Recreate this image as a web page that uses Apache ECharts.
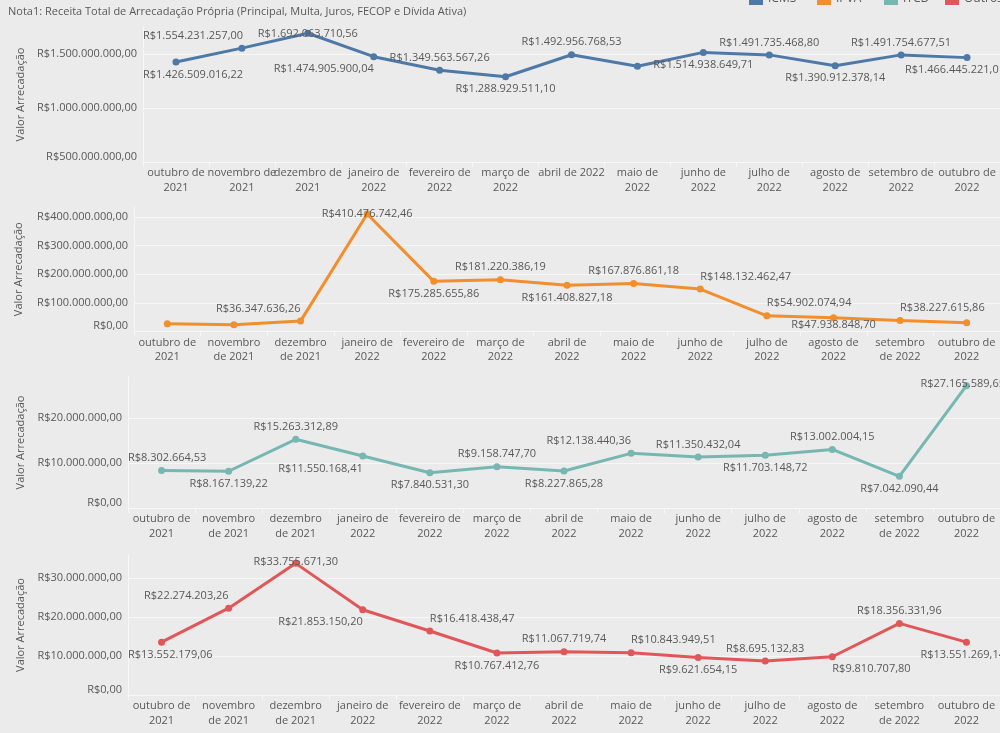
<!DOCTYPE html>
<html>
<head>
<meta charset="utf-8">
<script src="https://cdn.jsdelivr.net/npm/echarts@6/dist/echarts.min.js"></script>
<style>
html,body{margin:0;padding:0;background:#ebebeb;}
#chart{width:1000px;height:733px;}
</style>
</head>
<body>
<div id="chart"></div>
<script>
// ---- data ----
const months = ['outubro de 2021','novembro de 2021','dezembro de 2021','janeiro de 2022','fevereiro de 2022','março de 2022','abril de 2022','maio de 2022','junho de 2022','julho de 2022','agosto de 2022','setembro de 2022','outubro de 2022'];
const seriesNames = ['ICMS','IPVA','ITCD','Outros'];
const icms = [1426509016.22, 1554231257.00, 1692063710.56, 1474905900.04, 1349563567.26, 1288929511.10, 1492956768.53, 1386000000.00, 1514938649.71, 1491735468.80, 1390912378.14, 1491754677.51, 1466445221.01];
const ipva = [27000000.00, 23500000.00, 36347636.26, 410476742.46, 175285655.86, 181220386.19, 161408827.18, 167876861.18, 148132462.47, 54902074.94, 47938848.70, 38227615.86, 31000000.00];
const itcd = [8302664.53, 8167139.22, 15263312.89, 11550168.41, 7840531.30, 9158747.70, 8227865.28, 12138440.36, 11350432.04, 11703148.72, 13002004.15, 7042090.44, 27165589.65];
const outros = [13552179.06, 22274203.26, 33755671.30, 21853150.20, 16418438.47, 10767412.76, 11067719.74, 10843949.51, 9621654.15, 8695132.83, 9810707.80, 18356331.96, 13551269.14];
const titleText = 'Nota1: Receita Total de Arrecadação Própria (Principal, Multa, Juros, FECOP e Dívida Ativa)';
const axisTitle = 'Valor Arrecadação';

// ---- styling / layout ----
const colors = ['#4e79a7','#f28e2b','#76b7b2','#e15759'];
const textColor = '#595959';
const font = "'Open Sans', sans-serif";
const panels = [
  {data: icms,   left: 143, top: 27,  bottom: 162,   min: 500000000, max: 1750000000, interval: 500000000, nameGap: 117, wide: true,
   labels: ['B','TL','T','BL','T','B','T','','B','T','B','T','B']},
  {data: ipva,   left: 134, top: 207, bottom: 331.5, min: 0, max: 435000000, interval: 100000000, nameGap: 110, wide: false,
   labels: ['','','TL','T','B','T','B','T','TR','TR','B','TR','']},
  {data: itcd,   left: 128, top: 377, bottom: 508,   min: 0, max: 29100000, interval: 10000000, nameGap: 102, wide: false,
   labels: ['T','B','T','BL','B','T','B','TL','T','B','T','B','T']},
  {data: outros, left: 128, top: 555, bottom: 695,   min: 0, max: 35900000, interval: 10000000, nameGap: 102, wide: false,
   labels: ['B','TL','T','BL','TR','B','T','TR','B','T','BR','T','B']}
];
const gridRight = 1005;

function brl(v){
  const fixed = Math.abs(v).toFixed(2);
  let parts = fixed.split('.');
  let ip = parts[0].replace(/\B(?=(\d{3})+(?!\d))/g, '.');
  return (v < 0 ? '-' : '') + 'R$' + ip + ',' + parts[1];
}
function wrapMonth(s, wide){
  const w = s.split(' ');
  if (wide) {
    if (s === 'abril de 2022') return s;
    return w[0] + ' de\n' + w[2];
  }
  if (/^(novembro|dezembro|setembro)$/.test(w[0])) return w[0] + '\nde ' + w[2];
  return w[0] + ' de\n' + w[2];
}
function labelFor(code){
  if (!code) return {show: false};
  const pos = code[0] === 'T' ? 'top' : 'bottom';
  let align = 'center';
  if (code[1] === 'L') align = 'right';
  if (code[1] === 'R') align = 'left';
  return {show: true, position: pos, align: align};
}

const grids = [], xAxes = [], yAxes = [], series = [];
panels.forEach((p, i) => {
  grids.push({left: p.left, top: p.top, height: p.bottom - p.top, right: 1000 - gridRight, containLabel: false});
  xAxes.push({
    type: 'category', gridIndex: i, data: months, boundaryGap: true,
    axisLine: {show: true, lineStyle: {color: '#f7f7f7', width: 1}},
    axisTick: {show: true, length: 5, lineStyle: {color: '#f7f7f7'}},
    axisLabel: {interval: 0, margin: 4, color: textColor, fontFamily: font, fontSize: 11, lineHeight: 14.5,
      formatter: (v) => wrapMonth(v, p.wide)},
    splitLine: {show: false}
  });
  yAxes.push({
    type: 'value', gridIndex: i, min: p.min, max: p.max, interval: p.interval,
    name: axisTitle, nameLocation: 'middle', nameGap: p.nameGap, nameRotate: 90,
    nameTextStyle: {color: textColor, fontFamily: font, fontSize: 11},
    axisLine: {show: true, lineStyle: {color: '#f7f7f7', width: 1}},
    axisTick: {show: false},
    axisLabel: {color: textColor, fontFamily: font, fontSize: 11, margin: 6, showMaxLabel: false,
      verticalAlignMinLabel: 'bottom', formatter: (v) => brl(v)},
    splitLine: {show: true, showMaxLine: false, showMinLine: false, lineStyle: {color: '#f7f7f7', width: 1}}
  });
  series.push({
    name: seriesNames[i], type: 'line', xAxisIndex: i, yAxisIndex: i,
    data: p.data.map((v, k) => ({value: v, label: labelFor(p.labels[k])})),
    color: colors[i],
    lineStyle: {width: 3, color: colors[i]},
    itemStyle: {color: colors[i]},
    symbol: 'circle', symbolSize: 7, showAllSymbol: true,
    label: {distance: 2, color: textColor, fontFamily: font, fontSize: 11, lineHeight: 14,
      formatter: (pr) => brl(pr.value)},
    labelLayout: function(pr){
      const g = panels[pr.seriesIndex];
      const r = pr.labelRect;
      let dx = 0, dy = 0;
      if (r.x < g.left) dx = g.left - r.x;
      else if (r.x + r.width > gridRight) dx = gridRight - (r.x + r.width);
      if (r.y < g.top) dy = g.top - r.y;
      else if (r.y + r.height > g.bottom) dy = g.bottom - (r.y + r.height);
      return {dx: dx, dy: dy};
    },
    emphasis: {disabled: true},
    animation: false
  });
});

const legendX = [744, 812, 879, 940];
const legends = seriesNames.map((n, i) => ({
  data: [n], left: legendX[i], top: -13, itemWidth: 14, itemHeight: 13, icon: 'rect', itemGap: 0,
  textStyle: {color: textColor, fontFamily: font, fontSize: 12}, selectedMode: false
}));

const chart = echarts.init(document.getElementById('chart'), null, {renderer: 'canvas'});
chart.setOption({
  backgroundColor: '#ebebeb',
  animation: false,
  title: {text: titleText, left: 3, top: 0, textStyle: {color: textColor, fontFamily: font, fontSize: 11, fontWeight: 'normal', lineHeight: 14}},
  legend: legends,
  grid: grids, xAxis: xAxes, yAxis: yAxes, series: series
});
</script>
</body>
</html>
